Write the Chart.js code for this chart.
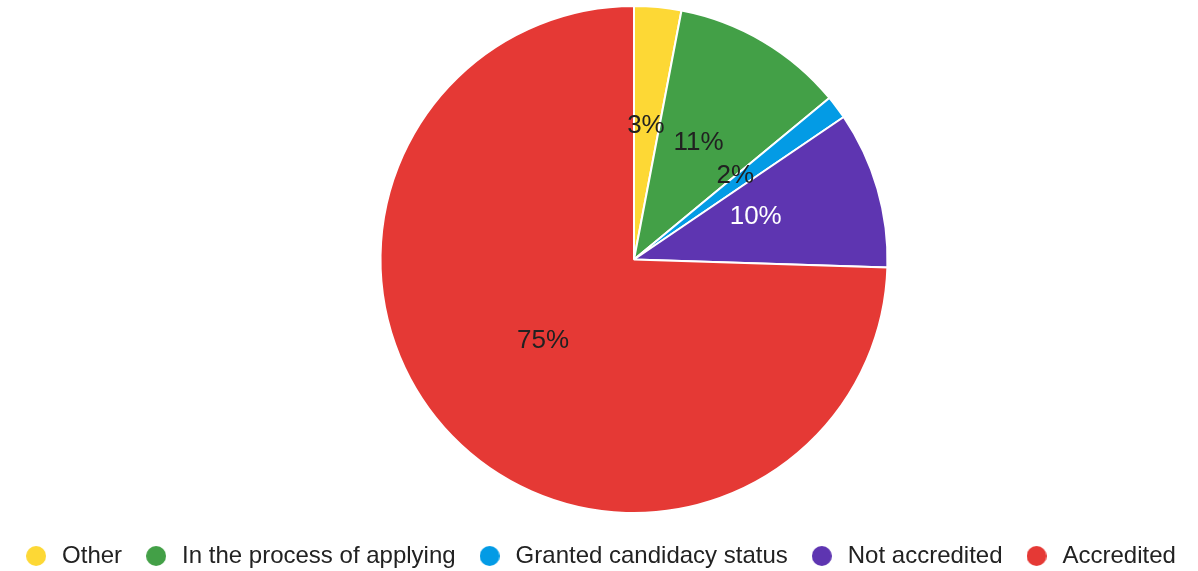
<!DOCTYPE html>
<html lang="en">
<head>
    <meta charset="UTF-8">
    <title>Accreditation status</title>
    <script src="https://cdn.jsdelivr.net/npm/chart.js@4.4.0/dist/chart.umd.min.js"></script>
    <style>
        body {
            margin: 0;
            padding: 0;
            background: #ffffff;
            font-family: "Liberation Sans", Arial, sans-serif;
        }
        .chart-box {
            width: 1198px;
            height: 571px;
        }
    </style>
</head>
<body>
    <div class="chart-box">
        <canvas id="pie"></canvas>
    </div>

    <script>
        // Data (number of answers)
        const categories = ['Other', 'In the process of applying', 'Granted candidacy status', 'Not accredited', 'Accredited'];
        const answers = [6, 22, 3, 20, 149];

        // Colours (slices and the text written on them)
        const sliceColors = ['#FDD835', '#43A047', '#039BE5', '#5E35B1', '#E53935'];
        const labelColors = ['#212121', '#212121', '#212121', '#ffffff', '#212121'];

        // little filled circle used as legend marker
        function dot(color, size) {
            const c = document.createElement('canvas');
            c.width = size;
            c.height = size;
            const g = c.getContext('2d');
            g.fillStyle = color;
            g.beginPath();
            g.arc(size / 2, size / 2, size / 2, 0, Math.PI * 2);
            g.fill();
            return c;
        }

        // Shifts the plot area so the pie sits where it does in the original
        const shiftArea = {
            id: 'shiftArea',
            afterLayout(chart, args, opts) {
                const area = chart.chartArea;
                area.left += opts.left || 0;
                area.bottom -= opts.bottom || 0;
                area.width = area.right - area.left;
                area.height = area.bottom - area.top;
            }
        };

        // Writes the percentage in the middle of each slice
        const sliceLabels = {
            id: 'sliceLabels',
            afterDatasetsDraw(chart) {
                const ctx = chart.ctx;
                const values = chart.data.datasets[0].data;
                const total = values.reduce((a, b) => a + b, 0);
                const meta = chart.getDatasetMeta(0);
                ctx.save();
                ctx.font = '26px "Liberation Sans", Arial, sans-serif';
                ctx.textAlign = 'center';
                ctx.textBaseline = 'alphabetic';
                meta.data.forEach((arc, i) => {
                    const pos = arc.tooltipPosition();
                    ctx.fillStyle = labelColors[i];
                    ctx.fillText(Math.round(values[i] / total * 100) + '%', pos.x, pos.y);
                });
                ctx.restore();
            }
        };

        new Chart(document.getElementById('pie'), {
            type: 'pie',
            data: {
                labels: categories,
                datasets: [{
                    data: answers,
                    backgroundColor: sliceColors,
                    borderColor: '#ffffff',
                    borderWidth: 2
                }]
            },
            options: {
                responsive: true,
                maintainAspectRatio: false,
                animation: false,
                layout: {
                    padding: { top: 5, bottom: -7 }
                },
                plugins: {
                    tooltip: { enabled: false },
                    shiftArea: { left: 70, bottom: 10 },
                    legend: {
                        position: 'bottom',
                        labels: {
                            usePointStyle: true,
                            pointStyleWidth: 28,
                            boxHeight: 20,
                            padding: 20,
                            color: '#222222',
                            font: { family: '"Liberation Sans", Arial, sans-serif', size: 24 },
                            generateLabels(chart) {
                                const items = Chart.overrides.pie.plugins.legend.labels.generateLabels(chart);
                                items.forEach((item, i) => {
                                    item.pointStyle = dot(sliceColors[i], 20);
                                });
                                return items;
                            }
                        }
                    }
                }
            },
            plugins: [shiftArea, sliceLabels]
        });
    </script>
</body>
</html>
